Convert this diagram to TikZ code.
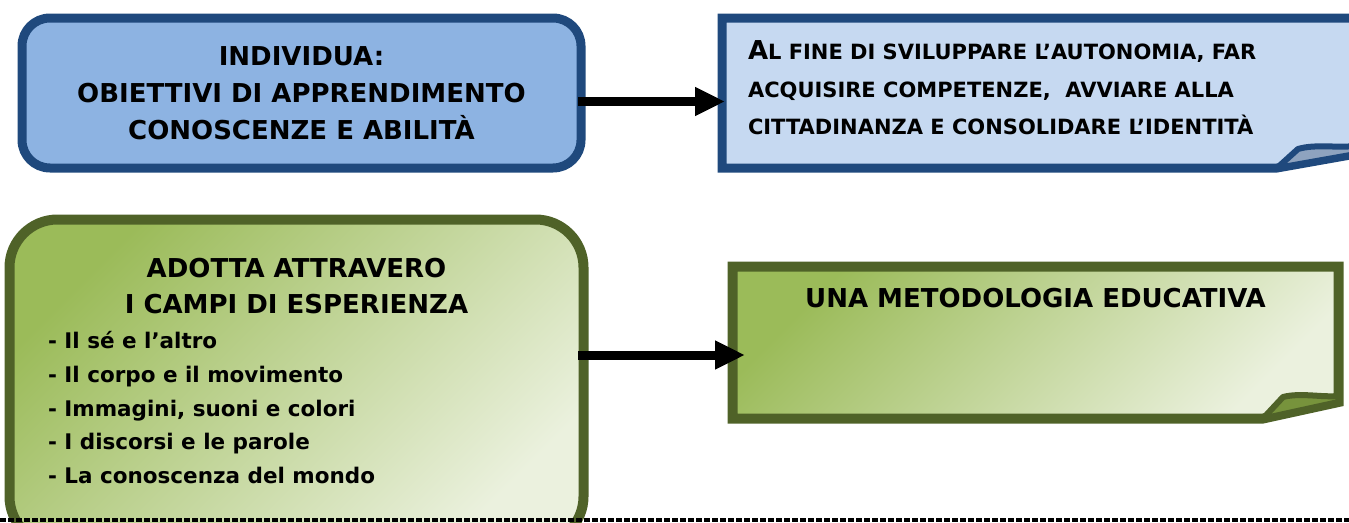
\documentclass[tikz,border=0pt]{standalone}
\usepackage{fontspec}
\setmainfont{DejaVu Sans}
\usetikzlibrary{positioning,arrows.meta}

\definecolor{bluebox}{HTML}{8DB3E2}
\definecolor{bluenote}{HTML}{C6D9F1}
\definecolor{blueline}{HTML}{1F497D}
\definecolor{bluefold}{HTML}{8EA3BF}
\definecolor{greendark}{HTML}{9BBB59}
\definecolor{greenlight}{HTML}{EBF1DE}
\definecolor{greenline}{HTML}{4F6228}
\definecolor{greenfold}{HTML}{77933C}

\begin{document}
\begin{tikzpicture}[x=1pt,y=1pt,
  bluenode/.style={rectangle, rounded corners=28pt, draw=blueline, line width=9pt, fill=bluebox, outer sep=0pt, inner sep=0pt, minimum width=559pt, minimum height=150pt, align=center, font=\bfseries\fontsize{26}{37}\selectfont},
  greennode/.style={rectangle, rounded corners=48pt, draw=greenline, line width=10pt, top color=greendark, bottom color=greenlight, shading angle=45, outer sep=0pt, inner sep=0pt, minimum width=574pt, minimum height=325pt},
  note/.style={rectangle, outer sep=0pt, inner sep=0pt},
  bigarrow/.style={-{Triangle[length=30pt,width=27pt]}, line width=9pt, black}]

    \useasboundingbox (0,0) rectangle (1349,-522);

    % top row
    \node[bluenode] (individua) at (301.5,-93) {INDIVIDUA:\\OBIETTIVI DI APPRENDIMENTO\\CONOSCENZE E ABILITÀ};
    \node[note, minimum width=634pt, minimum height=150pt] (fine) [right=141pt of individua] {};
    \filldraw[draw=blueline, fill=bluenote, line width=9pt] (fine.north west) -- (fine.north east) -- ([yshift=14pt]fine.south east) -- ([xshift=-79pt]fine.south east) -- (fine.south west) -- cycle;
    \filldraw[draw=blueline, fill=bluefold, line width=6pt, line join=round] ([xshift=-79pt]fine.south east) -- ([xshift=-58pt,yshift=19pt]fine.south east) .. controls ([xshift=-41pt,yshift=24pt]fine.south east) and ([xshift=-21pt,yshift=20pt]fine.south east) .. ([yshift=22pt]fine.south east) -- ([yshift=14pt]fine.south east) -- cycle;
    \node[note, anchor=west, align=left, font=\bfseries\fontsize{21}{37.5}\selectfont] (finetext) [right=26pt of fine.west, yshift=5pt] {{\fontsize{26}{37.5}\selectfont A}L FINE DI SVILUPPARE L’AUTONOMIA, FAR\\ACQUISIRE COMPETENZE,\ \ AVVIARE ALLA\\CITTADINANZA E CONSOLIDARE L’IDENTITÀ};

    \draw[bigarrow] ([xshift=-3pt,yshift=-8.5pt]individua.east) -- ([xshift=3pt,yshift=-8.5pt]fine.west);

    % bottom row
    \node[greennode] (adotta) at (296.5,-382) {};
    \node[note, align=center, font=\bfseries\fontsize{26}{36}\selectfont] (campi) [below=39pt of adotta.north] {ADOTTA ATTRAVERO\\I CAMPI DI ESPERIENZA};
    \node[note, align=left, font=\bfseries\fontsize{21.5}{33.75}\selectfont] (campilist) [below right=112pt and 38.5pt of adotta.north west] {- Il sé e l’altro\\- Il corpo e il movimento\\- Immagini, suoni e colori\\- I discorsi e le parole\\- La conoscenza del mondo};

    \node[note, minimum width=606pt, minimum height=152pt] (metodo) [right=149pt of adotta.north east, anchor=north west, yshift=-47pt] {};
    \shadedraw[draw=greenline, line width=10pt, top color=greendark, bottom color=greenlight, shading angle=45] (metodo.north west) -- (metodo.north east) -- ([yshift=16.5pt]metodo.south east) -- ([xshift=-75.5pt]metodo.south east) -- (metodo.south west) -- cycle;
    \filldraw[draw=greenline, fill=greenfold, line width=6pt, line join=round] ([xshift=-75.5pt]metodo.south east) -- ([xshift=-55.5pt,yshift=21.5pt]metodo.south east) .. controls ([xshift=-38pt,yshift=26pt]metodo.south east) and ([xshift=-18pt,yshift=21pt]metodo.south east) .. ([yshift=22.5pt]metodo.south east) -- ([yshift=16.5pt]metodo.south east) -- cycle;
    \node[note, font=\bfseries\fontsize{26}{30}\selectfont] (metodotext) [below=22pt of metodo.north] {UNA METODOLOGIA EDUCATIVA};

    \draw[bigarrow] ([xshift=-5.5pt,yshift=27pt]adotta.east) -- ([xshift=12.5pt,yshift=-12.5pt]metodo.west);

    % separator
    \coordinate (sepL) at (0,-520);
    \coordinate (sepR) at (1349,-520);
    \draw[line width=3.5pt, dash pattern=on 6pt off 2pt] (sepL) -- (sepR);

\end{tikzpicture}
\end{document}
